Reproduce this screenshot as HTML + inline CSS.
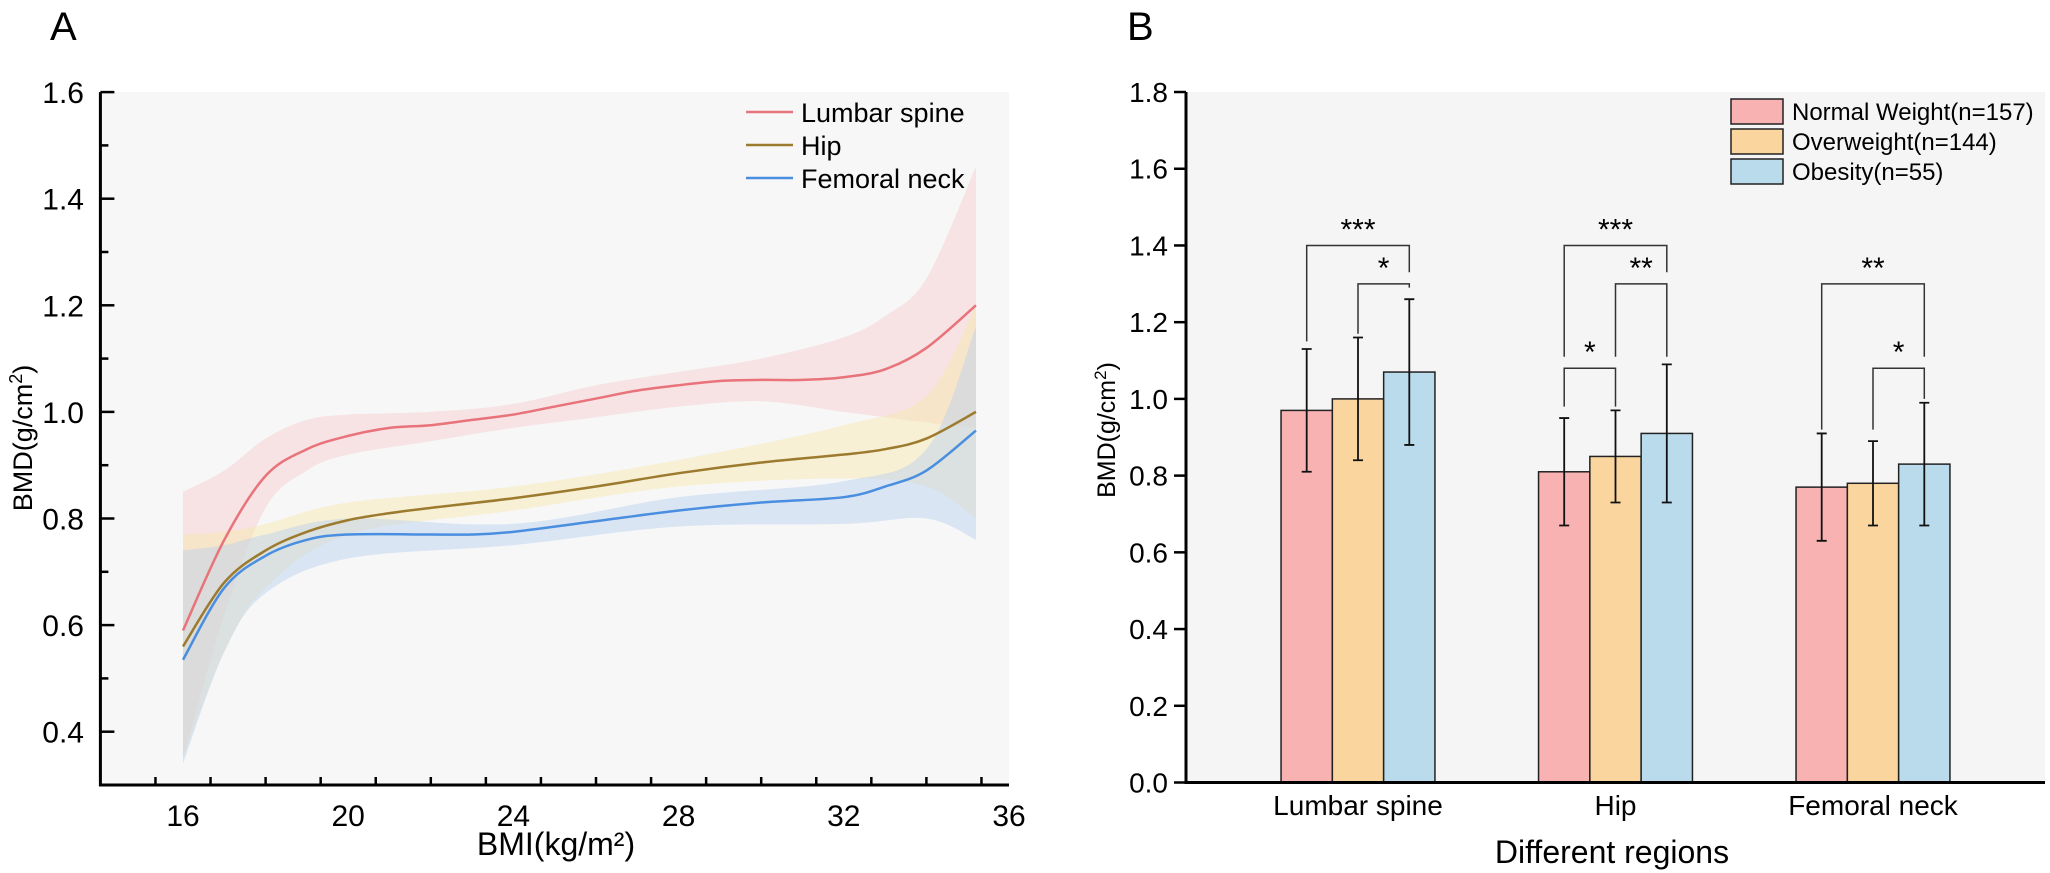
<!DOCTYPE html>
<html><head><meta charset="utf-8"><style>
body{margin:0;background:#fff}
svg{display:block;font-family:"Liberation Sans",sans-serif}
</style></head><body>
<svg id="fig" width="2050" height="873" viewBox="0 0 2050 873" xmlns="http://www.w3.org/2000/svg">
<g id="pa"></g>
<g id="pb"></g>
</svg>
<script>
// ---------- Panel A data ----------
const lsX  =[16,17,18,19,20,21,22,23,24,25,26,27,28,29,30,31,32,33,34,35.2];
const lsY  =[0.59,0.76,0.88,0.93,0.955,0.97,0.975,0.985,0.995,1.01,1.025,1.04,1.05,1.058,1.06,1.06,1.065,1.08,1.12,1.2];
const lsUx =[16,17,18,19,20,22,24,26,28,30,32,33,34,35.2];
const lsUp =[0.85,0.89,0.95,0.985,0.995,1.0,1.015,1.05,1.075,1.1,1.14,1.18,1.25,1.46];
const lsLo =[0.35,0.62,0.82,0.89,0.92,0.945,0.97,0.99,1.01,1.02,1.0,0.99,0.98,0.97];
const hipX =[16,17,18,19,20,21,22,24,26,28,30,32,33,34,35.2];
const hipY =[0.56,0.68,0.74,0.775,0.797,0.81,0.82,0.838,0.86,0.885,0.905,0.92,0.93,0.95,1.0];
const hipBx=[16,17,18,20,24,28,32,34,35.2];
const hipUp=[0.77,0.775,0.79,0.83,0.86,0.91,0.975,1.03,1.2];
const hipLo=[0.35,0.55,0.67,0.77,0.815,0.86,0.875,0.86,0.8];
const fnX  =[16,17,18,19,20,22,23,24,26,28,30,32,33,34,35.2];
const fnY  =[0.535,0.67,0.73,0.76,0.77,0.77,0.77,0.775,0.795,0.815,0.83,0.84,0.86,0.89,0.965];
const fnBx =[16,17,18,20,24,28,32,34,35.2];
const fnUp =[0.74,0.75,0.77,0.8,0.79,0.84,0.87,0.93,1.16];
const fnLo =[0.34,0.55,0.66,0.725,0.75,0.785,0.79,0.8,0.76];
const aXTicks=[16,20,24,28,32,36];
const aYTicks=[0.4,0.6,0.8,1.0,1.2,1.4,1.6];
const aLegend=["Lumbar spine","Hip","Femoral neck"];

// ---------- Panel B data ----------
const cats=["Lumbar spine","Hip","Femoral neck"];
const groups=["Normal Weight(n=157)","Overweight(n=144)","Obesity(n=55)"];
const normalVals=[0.97,0.81,0.77];
const overVals=[1.00,0.85,0.78];
const obeseVals=[1.07,0.91,0.83];
const normalSD=[0.16,0.14,0.14];
const overSD=[0.16,0.12,0.11];
const obeseSD=[0.19,0.18,0.16];
const bYTicks=[0.0,0.2,0.4,0.6,0.8,1.0,1.2,1.4,1.6,1.8];
const brCat  =[0,0,1,1,1,2,2];
const brFrom =[0,1,0,1,0,0,1];
const brTo   =[2,2,2,2,1,2,2];
const brY    =[1.40,1.30,1.40,1.30,1.08,1.30,1.08];
const brLab  =["***","*","***","**","*","**","*"];
const brLeft =[1.15,1.17,1.11,1.11,0.98,0.92,0.92];
const brRight=[1.33,1.29,1.33,1.11,0.98,1.11,1.0];

const NS="http://www.w3.org/2000/svg";
function mk(parent,tag,attrs,text){const e=document.createElementNS(NS,tag);for(const k in attrs)e.setAttribute(k,attrs[k]);if(text!==undefined)e.textContent=text;parent.appendChild(e);return e;}
function smooth(pts){let d="M"+pts[0][0]+","+pts[0][1];for(let i=0;i<pts.length-1;i++){const p0=pts[i-1]||pts[i],p1=pts[i],p2=pts[i+1],p3=pts[i+2]||p2;const c1=[p1[0]+(p2[0]-p0[0])/6,p1[1]+(p2[1]-p0[1])/6],c2=[p2[0]-(p3[0]-p1[0])/6,p2[1]-(p3[1]-p1[1])/6];d+=" C"+c1[0]+","+c1[1]+" "+c2[0]+","+c2[1]+" "+p2[0]+","+p2[1];}return d;}

// ---------- Panel A ----------
const pa=document.getElementById('pa');
const ax=v=>183+(v-16)*41.3, ay=v=>731.7-(v-0.4)*533;
const aL=ax(14),aR=ax(36),aT=ay(1.6),aB=ay(0.3);
let t;
t=mk(pa,'text',{x:50,y:40,'font-size':40},'A');

t=mk(pa,'rect',{x:aL,y:aT,width:aR-aL,height:aB-aT,fill:'#f7f7f7'});

function band(xs,up,lo,fill,name){const u=xs.map((x,i)=>[ax(x),ay(up[i])]);const l=xs.map((x,i)=>[ax(x),ay(lo[i])]).reverse();let d=smooth(u);d+=" L"+l[0][0]+","+l[0][1]+smooth(l).replace(/^M[^ ]+/,"")+" Z";const e=mk(pa,'path',{d:d,fill:fill,'fill-opacity':0.45});}
band(lsUx,lsUp,lsLo,'#f6c9cc','lumbar-spine-ci');
band(hipBx,hipUp,hipLo,'#f6e6a8','hip-ci');
band(fnBx,fnUp,fnLo,'#b6cff0','femoral-neck-ci');
function line(xs,ys,col,name){const e=mk(pa,'path',{d:smooth(xs.map((x,i)=>[ax(x),ay(ys[i])])),fill:'none',stroke:col,'stroke-width':2.5});}
line(lsX,lsY,'#e8737a','lumbar-spine-line');
line(hipX,hipY,'#9c7a2e','hip-line');
line(fnX,fnY,'#4a8ee0','femoral-neck-line');
t=mk(pa,'path',{d:`M${aL},${aT} V${aB} H${aR}`,fill:'none',stroke:'#000','stroke-width':3});

for(let k=1;k<=16;k++){const v=14+k*4/3;const major=aXTicks.some(m=>Math.abs(m-v)<0.01);const e=mk(pa,'line',{x1:ax(v),x2:ax(v),y1:aB,y2:aB-(major?14:8),stroke:'#000','stroke-width':2.5});}
aXTicks.forEach(v=>{const e=mk(pa,'text',{x:ax(v),y:826,'font-size':30,'text-anchor':'middle'},String(v));});
for(let v=0.3;v<=1.601;v+=0.1){const major=aYTicks.some(m=>Math.abs(m-v)<0.001);const e=mk(pa,'line',{x1:aL,x2:aL+(major?14:8),y1:ay(v),y2:ay(v),stroke:'#000','stroke-width':2.5});}
aYTicks.forEach(v=>{const e=mk(pa,'text',{x:84,y:ay(v)+11,'font-size':30,'text-anchor':'end'},v.toFixed(1));});
t=mk(pa,'text',{x:556,y:855,'font-size':32,'text-anchor':'middle'},'BMI(kg/m²)');

t=mk(pa,'text',{transform:'translate(32,438) rotate(-90)','font-size':27,'text-anchor':'middle'});

t.innerHTML='BMD(g/cm<tspan dy="-10" font-size="18">2</tspan><tspan dy="10">)</tspan>';
const lcols=['#e8737a','#9c7a2e','#4a8ee0'];
aLegend.forEach((s,i)=>{const y=112+i*33;const l=mk(pa,'line',{x1:746,x2:793,y1:y,y2:y,stroke:lcols[i],'stroke-width':2.5});const e=mk(pa,'text',{x:801,y:y+10,'font-size':27},s);});

// ---------- Panel B ----------
const pb=document.getElementById('pb');
const bx0=1186,bR=2045,by=v=>782.5-v*383.6;
const catC=i=>1358+i*257.5, bw=51.3;
const barX=(c,g)=>catC(c)-1.5*bw+g*bw;
t=mk(pb,'text',{x:1127,y:40,'font-size':40},'B');

t=mk(pb,'rect',{x:bx0,y:by(1.8),width:bR-bx0,height:by(0)-by(1.8),fill:'#f5f5f5'});

const vals=[normalVals,overVals,obeseVals],sds=[normalSD,overSD,obeseSD];
const bcols=['#f9b2b2','#fbd59e','#b9dbec'];
cats.forEach((c,ci)=>{vals.forEach((arr,g)=>{const x=barX(ci,g);const r=mk(pb,'rect',{x:x,y:by(arr[ci]),width:bw,height:by(0)-by(arr[ci]),fill:bcols[g],stroke:'#222','stroke-width':1.5});const cx=x+bw/2,top=by(arr[ci]+sds[g][ci]),bot=by(arr[ci]-sds[g][ci]);const e=mk(pb,'path',{d:`M${cx},${top} V${bot} M${cx-5},${top} H${cx+5} M${cx-5},${bot} H${cx+5}`,stroke:'#111','stroke-width':1.8,fill:'none'});});
const l=mk(pb,'text',{x:catC(ci),y:815,'font-size':28,'text-anchor':'middle'},c);});
brCat.forEach((c,i)=>{const x1=barX(c,brFrom[i])+bw/2,x2=barX(c,brTo[i])+bw/2,y=by(brY[i]);const e=mk(pb,'path',{d:`M${x1},${by(brLeft[i])} V${y} H${x2} V${by(brRight[i])}`,fill:'none',stroke:'#333','stroke-width':1.5});const s=mk(pb,'text',{x:(x1+x2)/2,y:y-6,'font-size':30,'text-anchor':'middle'},brLab[i]);});
t=mk(pb,'path',{d:`M${bx0},${by(1.8)} V${by(0)} H${bR}`,fill:'none',stroke:'#000','stroke-width':3});

bYTicks.forEach(v=>{const e=mk(pb,'line',{x1:bx0-12,x2:bx0,y1:by(v),y2:by(v),stroke:'#000','stroke-width':2.5});const tx=mk(pb,'text',{x:1168,y:by(v)+10,'font-size':28,'text-anchor':'end'},v.toFixed(1));});
t=mk(pb,'text',{x:1612,y:863,'font-size':32,'text-anchor':'middle'},'Different regions');

t=mk(pb,'text',{transform:'translate(1115,430) rotate(-90)','font-size':25,'text-anchor':'middle'});

t.innerHTML='BMD(g/cm<tspan dy="-9" font-size="17">2</tspan><tspan dy="9">)</tspan>';
groups.forEach((s,i)=>{const y=99+i*30;const r=mk(pb,'rect',{x:1731,y:y,width:52,height:25,fill:bcols[i],stroke:'#222','stroke-width':1.5});const e=mk(pb,'text',{x:1792,y:y+21,'font-size':24},s);});
</script>
</body></html>
